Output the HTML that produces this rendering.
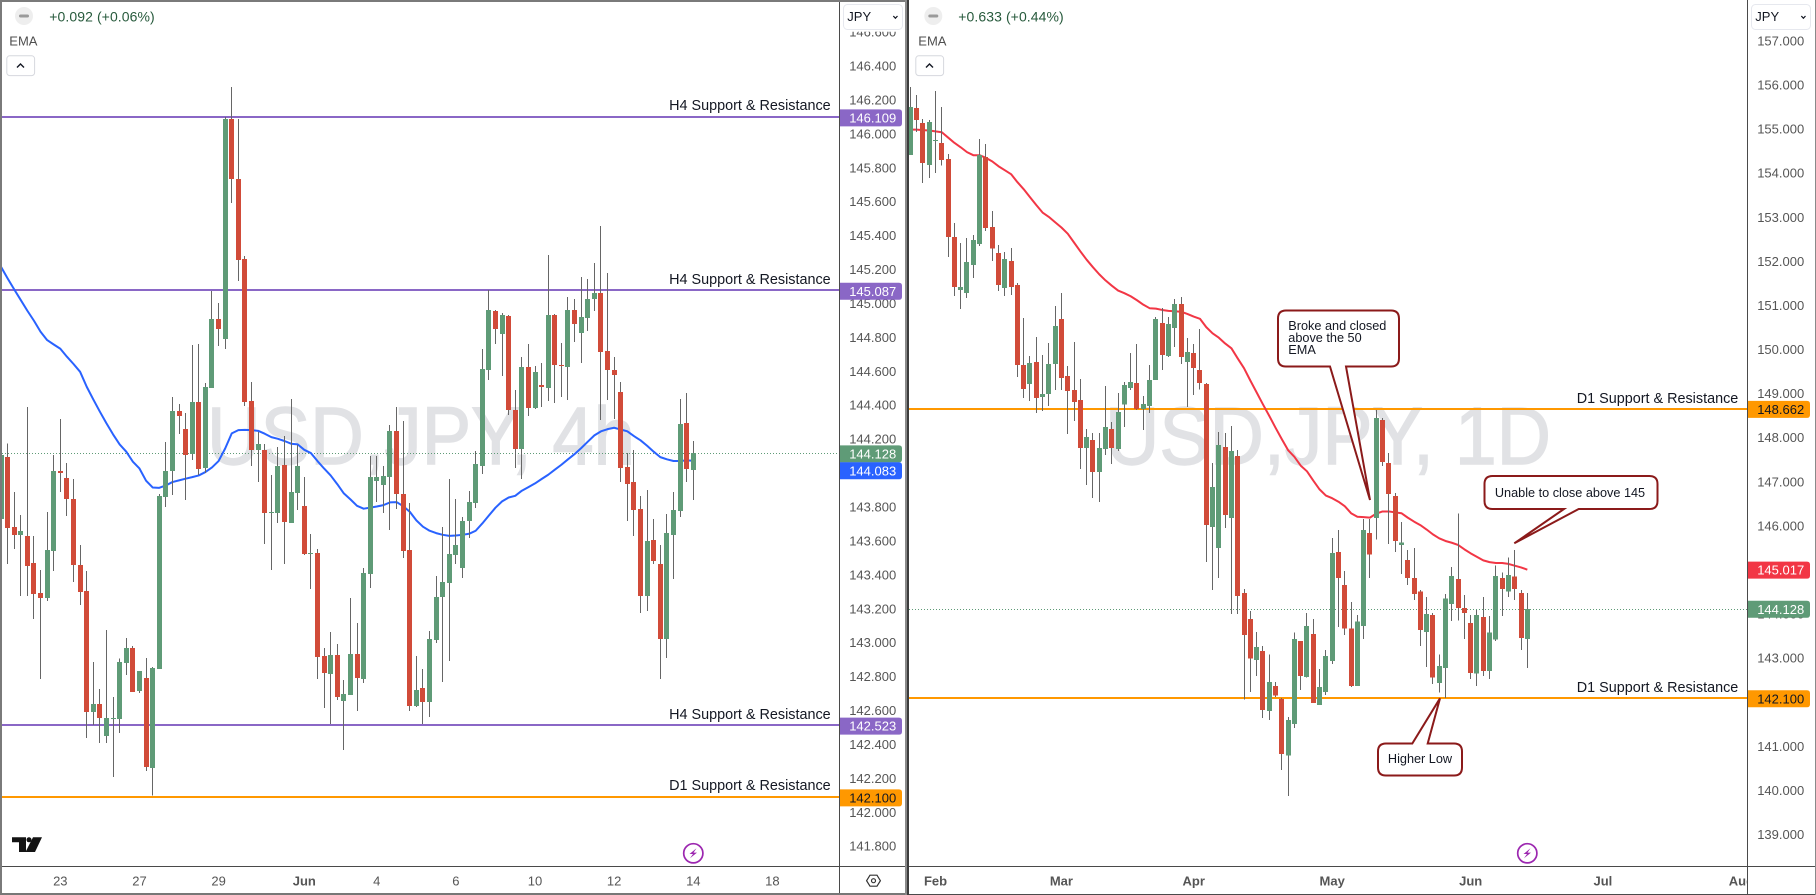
<!DOCTYPE html>
<html lang="en">
<head>
<meta charset="utf-8">
<title>USD/JPY 4h and 1D charts</title>
<style>
html,body{margin:0;padding:0;background:#fff;width:1816px;height:895px;overflow:hidden}
svg{display:block;font-family:"Liberation Sans",sans-serif}
</style>
</head>
<body>
<svg id="stage" xmlns="http://www.w3.org/2000/svg" width="1816" height="895" viewBox="0 0 1816 895">
  <defs>
    <clipPath id="leftClip"><rect x="2" y="2" width="837" height="864"/></clipPath>
    <clipPath id="rightClip"><rect x="909" y="0" width="838" height="866"/></clipPath>
    <clipPath id="leftAxisClip"><rect x="840" y="31.7" width="65" height="834"/></clipPath>
    <clipPath id="rightAxisClip"><rect x="1748" y="31.7" width="67" height="834"/></clipPath>
    <clipPath id="rightTimeClip"><rect x="909" y="867" width="838" height="27"/></clipPath>
  </defs>
  <rect width="1816" height="895" fill="#ffffff"/>

  <g id="leftPlot" clip-path="url(#leftClip)">
    <text x="207" y="464" font-size="82" fill="#e1e2e5" stroke="#e1e2e5" stroke-width="1.4" textLength="428" lengthAdjust="spacingAndGlyphs">USD,JPY, 4h</text>
  </g>
  <g id="leftAxis" clip-path="url(#leftAxisClip)"></g>
  <g id="leftTime"></g>

  <g id="rightPlot" clip-path="url(#rightClip)">
    <text x="1105" y="464" font-size="82" fill="#e1e2e5" stroke="#e1e2e5" stroke-width="1.4" textLength="446" lengthAdjust="spacingAndGlyphs">USD,JPY, 1D</text>
  </g>
  <g id="rightAxis" clip-path="url(#rightAxisClip)"></g>
  <g id="rightTime" clip-path="url(#rightTimeClip)"></g>

  <!-- annotations: left -->
  <g font-size="14.4" fill="#131722" text-anchor="end">
    <text x="830.7" y="110">H4 Support &amp; Resistance</text>
    <text x="830.7" y="284">H4 Support &amp; Resistance</text>
    <text x="830.7" y="719">H4 Support &amp; Resistance</text>
    <text x="830.7" y="790">D1 Support &amp; Resistance</text>
  </g>
  <!-- annotations: right -->
  <g font-size="14.4" fill="#131722" text-anchor="end">
    <text x="1738.3" y="403">D1 Support &amp; Resistance</text>
    <text x="1738.3" y="692">D1 Support &amp; Resistance</text>
  </g>

  <g>
    <path d="M1286,310.5 H1391 Q1399,310.5 1399,318.5 V358.5 Q1399,366.5 1391,366.5 H1346 L1370,500 L1330,366.5 H1286 Q1278,366.5 1278,358.5 V318.5 Q1278,310.5 1286,310.5 Z" fill="#fff" stroke="#8b1a1a" stroke-width="2"/>
    <text font-size="12.7" fill="#131722" x="1288.3"><tspan x="1288.3" y="330">Broke and closed</tspan><tspan x="1288.3" y="342">above the 50</tspan><tspan x="1288.3" y="354">EMA</tspan></text>
  </g>
  <g>
    <path d="M1492.5,476 H1649.5 Q1657.5,476 1657.5,484 V501 Q1657.5,509 1649.5,509 H1578.7 L1514.3,543.3 L1564,509 H1492.5 Q1484.5,509 1484.5,501 V484 Q1484.5,476 1492.5,476 Z" fill="#fff" stroke="#8b1a1a" stroke-width="2"/>
    <text font-size="12.7" fill="#131722" x="1570" y="497.2" text-anchor="middle">Unable to close above 145</text>
  </g>
  <g>
    <path d="M1386,743.5 H1412.3 L1440,698.3 L1427.7,743.5 H1454 Q1462,743.5 1462,751.5 V767.5 Q1462,775.5 1454,775.5 H1386 Q1378,775.5 1378,767.5 V751.5 Q1378,743.5 1386,743.5 Z" fill="#fff" stroke="#8b1a1a" stroke-width="2"/>
    <text font-size="12.7" fill="#131722" x="1420" y="763.2" text-anchor="middle">Higher Low</text>
  </g>

  <!-- left header -->
  <g>
    <circle cx="24" cy="16" r="9" fill="#eeeeee"/>
    <rect x="19" y="14.5" width="10" height="3" rx="1.5" fill="#9a9a9a"/>
    <text x="49.3" y="21.6" font-size="14" fill="#275a3c" textLength="105.4" lengthAdjust="spacing">+0.092 (+0.06%)</text>
    <text x="9.3" y="45.4" font-size="13" fill="#4f4f4f">EMA</text>
    <rect x="6.8" y="55.8" width="27.8" height="19.8" rx="3" fill="#fff" stroke="#d6d8de"/>
    <path d="M17,67.5 L20.5,64 L24,67.5" fill="none" stroke="#131722" stroke-width="1.4"/>
  </g>
  <!-- right header -->
  <g>
    <circle cx="933.3" cy="16" r="9" fill="#eeeeee"/>
    <rect x="928.3" y="14.5" width="10" height="3" rx="1.5" fill="#9a9a9a"/>
    <text x="958.3" y="21.6" font-size="14" fill="#275a3c" textLength="105.4" lengthAdjust="spacing">+0.633 (+0.44%)</text>
    <text x="918.3" y="45.4" font-size="13" fill="#4f4f4f">EMA</text>
    <rect x="915.8" y="55.8" width="27.8" height="19.8" rx="3" fill="#fff" stroke="#d6d8de"/>
    <path d="M926,67.5 L929.5,64 L933,67.5" fill="none" stroke="#131722" stroke-width="1.4"/>
  </g>

  <!-- currency selectors -->
  <g>
    <rect x="843.5" y="4.5" width="59" height="25" rx="4" fill="#fff" stroke="#e6e8ee"/>
    <text x="847.3" y="21.2" font-size="13" fill="#131722">JPY</text>
    <path d="M893.3,16 L895.4,18.2 L897.5,16" fill="none" stroke="#131722" stroke-width="1.2"/>
  </g>
  <g>
    <rect x="1751.5" y="4.5" width="59" height="25" rx="4" fill="#fff" stroke="#e6e8ee"/>
    <text x="1755.3" y="21.2" font-size="13" fill="#131722">JPY</text>
    <path d="M1801.3,16 L1803.4,18.2 L1805.5,16" fill="none" stroke="#131722" stroke-width="1.2"/>
  </g>

  <!-- logo -->
  <g fill="#131313">
    <path d="M12,837.3 H26 V852 H19 V842.3 H12 Z"/>
    <circle cx="29" cy="839.8" r="2.5"/>
    <path d="M33,837.3 H42 L35,852 H25.5 Z"/>
  </g>

  <!-- lightning icons -->
  <g>
    <circle cx="693.3" cy="853.3" r="9.6" fill="#fff" stroke="#9c27b0" stroke-width="1.7"/>
    <path d="M696.5,848.3 L689.5,854 H693 L690,858.3 L697,852.6 H693.5 Z" fill="#9c27b0"/>
  </g>
  <g>
    <circle cx="1527.3" cy="853.3" r="9.6" fill="#fff" stroke="#9c27b0" stroke-width="1.7"/>
    <path d="M1530.5,848.3 L1523.5,854 H1527 L1524,858.3 L1531,852.6 H1527.5 Z" fill="#9c27b0"/>
  </g>

  <!-- settings icon -->
  <g fill="none" stroke="#333" stroke-width="1.2">
    <path d="M866.6,880.7 L870,875.2 H877 L880.4,880.7 L877,886.2 H870 Z"/>
    <circle cx="873.5" cy="880.7" r="2"/>
  </g>

  <!-- frame -->
  <g shape-rendering="crispEdges">
    <rect x="0" y="0" width="905" height="2" fill="#7a7a7a"/>
    <rect x="0" y="0" width="2" height="895" fill="#7a7a7a"/>
    <rect x="0" y="893" width="905" height="2" fill="#777"/>
    <rect x="839" y="2" width="1" height="891" fill="#4a4a4a"/>
    <rect x="2" y="866" width="903" height="1" fill="#4a4a4a"/>
    <rect x="905" y="0" width="2" height="895" fill="#8a8a8a"/>
    <rect x="907" y="0" width="2" height="895" fill="#3c3c3c"/>
    <rect x="1747" y="0" width="1" height="894" fill="#4a4a4a"/>
    <rect x="909" y="866" width="906" height="1" fill="#4a4a4a"/>
    <rect x="909" y="894" width="907" height="1" fill="#4a4a4a"/>
    <rect x="1815" y="0" width="1" height="895" fill="#8a8a8a"/>
  </g>
</svg>

<script>
// ---------- 4h chart data ----------
const leftOpen = [143.739,144.104,143.692,143.644,143.639,143.479,143.302,143.273,143.550,144.022,143.980,143.857,143.468,143.314,142.601,142.648,142.459,142.560,142.560,142.890,142.978,142.725,142.801,142.271,142.854,143.868,144.022,144.375,144.269,144.122,144.429,144.039,144.512,144.918,144.800,146.097,145.744,145.272,144.435,144.146,144.146,143.774,143.774,144.057,143.715,143.892,143.815,143.532,143.538,142.931,142.825,142.937,142.666,142.701,142.943,142.795,143.414,143.963,143.939,143.986,144.258,143.886,143.556,142.636,142.742,142.660,143.025,143.279,143.361,143.526,143.450,143.727,143.833,144.051,144.618,144.965,144.830,144.936,144.382,144.151,144.635,144.394,144.529,144.512,144.942,144.647,144.635,144.971,144.836,144.924,145.036,145.072,144.730,144.618,144.488,144.045,143.957,143.798,143.285,143.615,143.473,143.031,143.644,143.786,144.305,144.028];
const leftHigh = [144.175,144.185,143.898,143.762,144.399,143.639,143.438,143.780,144.116,144.328,144.069,143.975,143.585,143.432,142.896,142.736,143.084,142.689,142.917,143.037,142.990,142.843,142.919,142.868,143.886,144.193,144.458,144.417,144.364,144.765,144.770,144.541,145.083,145.013,146.109,146.286,146.097,145.290,144.547,144.252,144.181,143.998,144.164,144.229,144.447,144.175,143.986,143.650,143.562,142.978,143.073,143.002,142.790,143.273,143.126,143.450,144.110,144.110,144.051,144.293,144.399,144.317,143.833,142.931,142.854,143.078,143.403,143.692,143.975,143.857,143.751,143.904,144.140,144.741,145.089,144.971,144.954,144.942,144.500,144.694,144.771,144.641,144.659,145.296,144.948,144.777,145.048,145.036,145.166,145.154,145.248,145.467,145.189,144.694,144.547,144.128,144.146,143.874,143.910,143.739,143.585,143.768,143.898,144.447,144.482,144.199];
const leftLow = [143.739,143.475,143.562,143.285,143.285,143.149,142.795,143.255,143.432,143.898,143.756,143.367,143.232,142.448,142.524,142.418,142.418,142.218,142.477,142.819,142.719,142.713,142.253,142.108,142.854,143.809,143.880,144.240,143.851,144.087,143.998,144.010,144.512,144.759,144.741,145.602,145.142,144.405,144.051,143.957,143.591,143.438,143.715,143.473,143.715,143.792,143.526,143.326,142.795,142.624,142.530,142.672,142.377,142.701,142.607,142.772,143.332,143.839,143.774,143.674,143.798,143.509,142.607,142.630,142.530,142.571,143.008,142.778,142.902,143.473,143.391,143.627,143.804,144.004,144.559,144.771,144.582,144.352,144.039,143.975,144.346,144.388,144.399,144.435,144.423,144.458,144.441,144.783,144.659,144.848,144.965,144.323,144.441,144.329,143.957,143.727,143.639,143.185,143.196,143.473,142.795,142.919,143.385,143.751,143.957,143.851];
const leftClose = [144.116,143.686,143.644,143.668,143.462,143.297,143.273,143.556,144.022,144.010,143.857,143.468,143.308,142.601,142.648,142.566,142.566,142.566,142.896,142.978,142.719,142.843,142.277,142.860,143.874,144.022,144.375,144.346,144.116,144.429,144.034,144.517,144.918,144.859,146.097,145.744,145.266,144.429,144.146,144.181,143.774,143.780,144.051,143.721,143.898,144.051,143.532,143.538,142.925,142.831,142.937,142.689,142.707,142.943,142.801,143.420,143.986,143.986,143.992,144.258,143.886,143.550,142.636,142.731,142.660,143.031,143.279,143.367,143.532,143.585,143.727,143.839,144.063,144.624,144.971,144.859,144.942,144.382,144.151,144.635,144.394,144.606,144.517,144.942,144.647,144.641,144.971,144.889,144.930,145.036,145.072,144.724,144.618,144.588,144.039,143.945,143.792,143.285,143.609,143.491,143.031,143.656,143.792,144.299,144.034,144.128];
const leftEma = [145.226,145.158,145.093,145.030,144.967,144.908,144.843,144.794,144.768,144.743,144.696,144.653,144.607,144.519,144.444,144.372,144.303,144.238,144.179,144.136,144.077,144.037,143.965,143.925,143.923,143.937,143.957,143.967,143.977,143.986,143.996,144.016,144.043,144.081,144.155,144.244,144.263,144.265,144.263,144.259,144.242,144.222,144.212,144.199,144.183,144.179,144.147,144.128,144.081,144.037,143.996,143.945,143.890,143.855,143.817,143.800,143.806,143.813,143.821,143.837,143.839,143.815,143.782,143.731,143.694,143.670,143.656,143.646,143.640,143.642,143.646,143.652,143.670,143.713,143.760,143.806,143.843,143.866,143.876,143.906,143.927,143.949,143.975,144.000,144.030,144.059,144.091,144.122,144.157,144.195,144.232,144.256,144.269,144.277,144.267,144.256,144.228,144.203,144.171,144.136,144.104,144.091,144.081,144.081,144.085,144.083];
const leftTicks = [146.6,146.4,146.2,146.0,145.8,145.6,145.4,145.2,145.0,144.8,144.6,144.4,144.2,144.0,143.8,143.6,143.4,143.2,143.0,142.8,142.6,142.4,142.2,142.0,141.8];
const leftTimeLabels = ['23','27','29','Jun','4','6','10','12','14','18'];
const leftTimeBars = [9,21,33,46,57,69,81,93,105,117];
const leftPurpleLevels = [146.109,145.087,142.523];
const leftOrangeLevels = [142.100];
const leftEmaPrice = 144.083;

// ---------- 1D chart data ----------
const rightOpen = [154.41,155.48,155.14,154.19,154.73,154.69,154.32,152.55,151.35,151.29,151.92,152.40,154.37,152.78,152.19,151.40,152.01,151.47,149.65,149.22,149.72,148.93,148.99,149.67,150.70,149.40,149.09,148.86,147.77,147.95,147.22,147.75,148.20,147.75,148.75,149.13,149.24,148.65,148.72,149.31,150.60,149.86,150.49,151.04,149.72,149.92,149.54,149.22,145.98,145.50,147.79,146.18,147.59,144.48,143.89,142.96,143.17,141.81,142.37,142.08,140.79,141.51,143.39,142.58,143.55,141.94,142.24,142.94,145.41,144.66,143.67,142.37,143.73,145.84,146.18,148.40,147.43,146.68,145.57,145.23,144.82,144.51,143.60,143.98,142.44,142.78,144.23,144.80,144.14,143.80,142.65,143.94,142.71,143.42,144.82,144.51,144.85,144.48,143.44];
const rightHigh = [155.96,155.78,155.23,155.21,155.87,155.50,154.44,152.87,152.42,152.53,152.60,154.78,154.66,153.15,152.37,152.22,152.30,151.51,150.72,149.86,150.29,149.88,150.15,150.99,151.29,149.63,150.17,149.33,148.20,148.11,148.11,149.18,148.36,149.02,149.27,149.92,150.13,148.95,149.65,150.74,150.94,150.74,151.15,151.19,150.26,150.13,150.47,149.24,147.43,148.13,148.11,148.27,147.72,144.57,144.07,143.60,143.28,143.08,142.46,142.10,141.67,143.58,143.39,144.03,143.89,142.76,143.19,145.73,145.91,144.98,144.28,143.98,146.16,146.16,148.63,148.45,147.66,146.75,146.09,145.46,145.50,144.55,144.39,144.03,143.08,144.46,145.07,146.28,144.44,143.98,144.10,144.39,143.96,145.10,144.94,145.28,145.46,144.55,144.48];
const rightLow = [154.41,154.94,153.78,153.89,154.01,154.17,152.10,151.22,150.92,151.17,151.63,152.35,152.69,152.01,151.33,151.22,151.24,149.38,148.90,148.84,148.56,148.61,148.72,149.09,149.09,148.09,148.38,147.29,146.93,146.64,146.54,147.61,147.41,147.70,148.25,149.09,148.63,148.18,148.56,149.31,149.54,149.83,150.06,149.67,148.70,148.97,149.09,145.18,144.55,144.82,145.95,144.00,144.00,142.06,142.24,142.60,141.65,141.60,142.12,140.47,139.88,141.42,142.28,142.56,141.99,141.94,142.17,142.87,143.71,143.53,142.35,142.37,143.44,144.82,145.69,147.36,145.59,145.41,144.91,144.66,144.32,143.28,142.80,142.42,142.22,142.10,143.85,143.85,143.44,142.53,142.37,142.60,142.53,143.39,143.96,144.39,144.32,143.19,142.78];
const rightClose = [155.50,155.21,154.23,155.16,154.76,154.30,152.55,151.42,151.42,151.99,152.49,154.41,152.76,152.30,151.47,152.06,151.42,149.65,149.11,149.70,148.90,148.99,149.67,150.54,149.36,149.06,148.81,147.77,148.02,147.22,147.77,148.25,147.77,148.59,149.20,149.27,148.65,148.77,149.31,150.70,149.88,150.58,151.04,149.83,149.95,149.58,149.24,146.02,146.88,147.84,146.25,147.70,144.41,143.53,142.99,143.26,141.83,142.46,142.15,140.83,141.60,143.44,142.60,143.73,141.99,142.35,143.05,145.39,144.82,143.67,142.37,143.83,145.91,145.35,148.45,147.45,146.73,145.66,145.62,144.82,144.46,143.64,144.00,142.56,142.82,144.35,144.87,144.14,144.03,142.67,143.98,142.71,143.58,144.87,144.57,144.89,144.57,143.46,144.12];
const rightEma = [154.99,154.99,154.98,154.97,154.95,154.93,154.81,154.69,154.59,154.48,154.41,154.41,154.35,154.27,154.16,154.07,153.98,153.80,153.64,153.46,153.28,153.11,153.01,152.89,152.77,152.63,152.43,152.23,152.04,151.87,151.71,151.57,151.45,151.34,151.28,151.21,151.12,151.02,150.94,150.93,150.90,150.88,150.87,150.86,150.81,150.75,150.70,150.51,150.37,150.27,150.14,150.03,149.80,149.58,149.30,149.03,148.76,148.50,148.23,147.97,147.72,147.57,147.37,147.24,147.03,146.83,146.69,146.63,146.55,146.45,146.29,146.21,146.20,146.19,146.28,146.33,146.33,146.31,146.29,146.19,146.10,146.02,145.92,145.81,145.72,145.66,145.62,145.57,145.47,145.38,145.30,145.22,145.18,145.16,145.16,145.14,145.10,145.06,145.01];
const rightTicks = [157,156,155,154,153,152,151,150,149,148,147,146,145,144,143,142,141,140,139];
const rightTimeLabels = ['Feb','Mar','Apr','May','Jun','Jul','Aug'];
const rightTimeBars = [4,24,45,67,89,110,132];
const rightOrangeLevels = [148.662,142.100];
const rightEmaPrice = 145.017;

// ---------- axis functions ----------
function leftX(i){ return 1 + 6.593 * i; }
function leftY(p){ return (146.799 - p) * 169.62; }
function rightX(i){ return 910.33 + 6.296 * i; }
function rightY(p){ return (157.93 - p) * 44.09; }

const NS = 'http://www.w3.org/2000/svg';
const GREEN = '#5f9b77', RED = '#d14b39', WICK = '#666666', PURPLE = '#8a67c6', ORANGE = '#ff9800', BLUE = '#2962ff', EMA_RED = '#f23645';

function shape(tag, parent, attrs){
  const el = document.createElementNS(NS, tag);
  for (const k in attrs) el.setAttribute(k, attrs[k]);
  parent.appendChild(el);
  return el;
}

function drawLevels(plot, values, color, y, name, x0, x1){
  values.forEach(function(v){
    const el = shape('rect', plot, {x:x0, y:Math.round(y(v))-1, width:x1-x0, height:2, fill:color, 'shape-rendering':'crispEdges'});
    
    
  });
}

function drawEma(plot, values, x, y, color, name){
  const pts = values.map(function(v,i){ return x(i).toFixed(2)+','+y(v).toFixed(2); }).join(' ');
  const el = shape('polyline', plot, {points:pts, fill:'none', stroke:color, 'stroke-width':2, 'stroke-linejoin':'round'});
  
  
}

function drawCandles(plot, o, h, l, c, x, y){
  o.forEach(function(open,i){
    const close = c[i];
    const up = close >= open;
    const bx = Math.round(x(i) - 2.5);
    const top = y(Math.max(open, close));
    const bot = y(Math.min(open, close));
    const wick = shape('rect', plot, {x:bx+2, y:y(h[i]).toFixed(1), width:1, height:(y(l[i])-y(h[i])).toFixed(1), fill:WICK, 'shape-rendering':'crispEdges'});
    
    
    const body = shape('rect', plot, {x:bx, y:top.toFixed(1), width:5, height:Math.max(bot-top,1).toFixed(1), fill:up?GREEN:RED, 'shape-rendering':'crispEdges'});
    
    
  });
}

function drawLastLine(plot, value, y, x0, x1){
  const el = shape('line', plot, {x1:x0, x2:x1, y1:Math.round(y(value))+0.5, y2:Math.round(y(value))+0.5, stroke:GREEN, 'stroke-width':1, 'stroke-dasharray':'1 2'});
  
  
}

function drawTicks(axis, ticks, y, cx){
  ticks.forEach(function(v){
    const t = shape('text', axis, {x:cx, y:(y(v)+3.6).toFixed(1), 'font-size':13, fill:'#555555', 'text-anchor':'middle'});
    t.textContent = v.toFixed(3);
    
    
  });
}

// shift: collision offset that moves a label clear of its neighbour on the axis
function drawPill(parent, value, y, x0, w, cx, color, textColor, shift){
  const cy = y(value) + 0.8 + (shift || 0);
  const t = cy - 8.5, b = cy + 8.5, r = x0 + w;
  const g = shape('path', parent, {d:'M'+x0+','+t+' H'+(r-3)+' Q'+r+','+t+' '+r+','+(t+3)+' V'+(b-3)+' Q'+r+','+b+' '+(r-3)+','+b+' H'+x0+' Z', fill:color});
  
  
  const s = shape('text', parent, {x:cx, y:(cy+4.6).toFixed(1), 'font-size':13, fill:textColor, 'text-anchor':'middle'});
  s.textContent = value.toFixed(3);
  
  
}

function drawTime(group, labels, bars, x){
  labels.forEach(function(lab,i){
    const bold = /[A-Za-z]/.test(lab);
    const t = shape('text', group, {x:x(bars[i]).toFixed(1), y:885.4, 'font-size':13, fill:'#555555', 'text-anchor':'middle', 'font-weight':bold?'bold':'normal'});
    t.textContent = lab;
    
    
  });
}

// ---------- render 4h ----------
const lp = document.getElementById('leftPlot');
const la = document.getElementById('leftAxis');
drawLevels(lp, leftPurpleLevels, PURPLE, leftY, 'h4-support-resistance-line', 2, 839);
drawLevels(lp, leftOrangeLevels, ORANGE, leftY, 'd1-support-resistance-line', 2, 839);
drawLastLine(lp, leftClose[leftClose.length-1], leftY, 2, 839);
drawEma(lp, leftEma, leftX, leftY, BLUE, 'ema-line-4h');
drawCandles(lp, leftOpen, leftHigh, leftLow, leftClose, leftX, leftY);
drawTicks(la, leftTicks, function(p){ return leftY(p) - 0.8; }, 872.7);
leftPurpleLevels.forEach(function(v){ drawPill(la, v, leftY, 840, 62, 872.7, PURPLE, '#ffffff', 0); });
leftOrangeLevels.forEach(function(v){ drawPill(la, v, leftY, 840, 62, 872.7, ORANGE, '#131722', 0); });
drawPill(la, leftClose[leftClose.length-1], leftY, 840, 62, 872.7, GREEN, '#ffffff', 0);
drawPill(la, leftEmaPrice, leftY, 840, 62, 872.7, BLUE, '#ffffff', 9.2);
drawTime(document.getElementById('leftTime'), leftTimeLabels, leftTimeBars, leftX);

// ---------- render 1D ----------
const rp = document.getElementById('rightPlot');
const ra = document.getElementById('rightAxis');
drawLevels(rp, rightOrangeLevels, ORANGE, rightY, 'd1-support-resistance-line', 909, 1747);
drawLastLine(rp, rightClose[rightClose.length-1], rightY, 909, 1747);
drawEma(rp, rightEma, rightX, rightY, EMA_RED, 'ema-line-1d');
drawCandles(rp, rightOpen, rightHigh, rightLow, rightClose, rightX, rightY);
drawTicks(ra, rightTicks, function(p){ return rightY(p) + 0.8; }, 1780.7);
rightOrangeLevels.forEach(function(v){ drawPill(ra, v, rightY, 1748, 62, 1780.7, ORANGE, '#131722', 0); });
drawPill(ra, rightEmaPrice, rightY, 1748, 62, 1780.7, EMA_RED, '#ffffff', 0);
drawPill(ra, 144.128, function(){ return 608.5; }, 1748, 62, 1780.7, GREEN, '#ffffff', 0);
drawTime(document.getElementById('rightTime'), rightTimeLabels, rightTimeBars, rightX);
</script>
</body>
</html>
